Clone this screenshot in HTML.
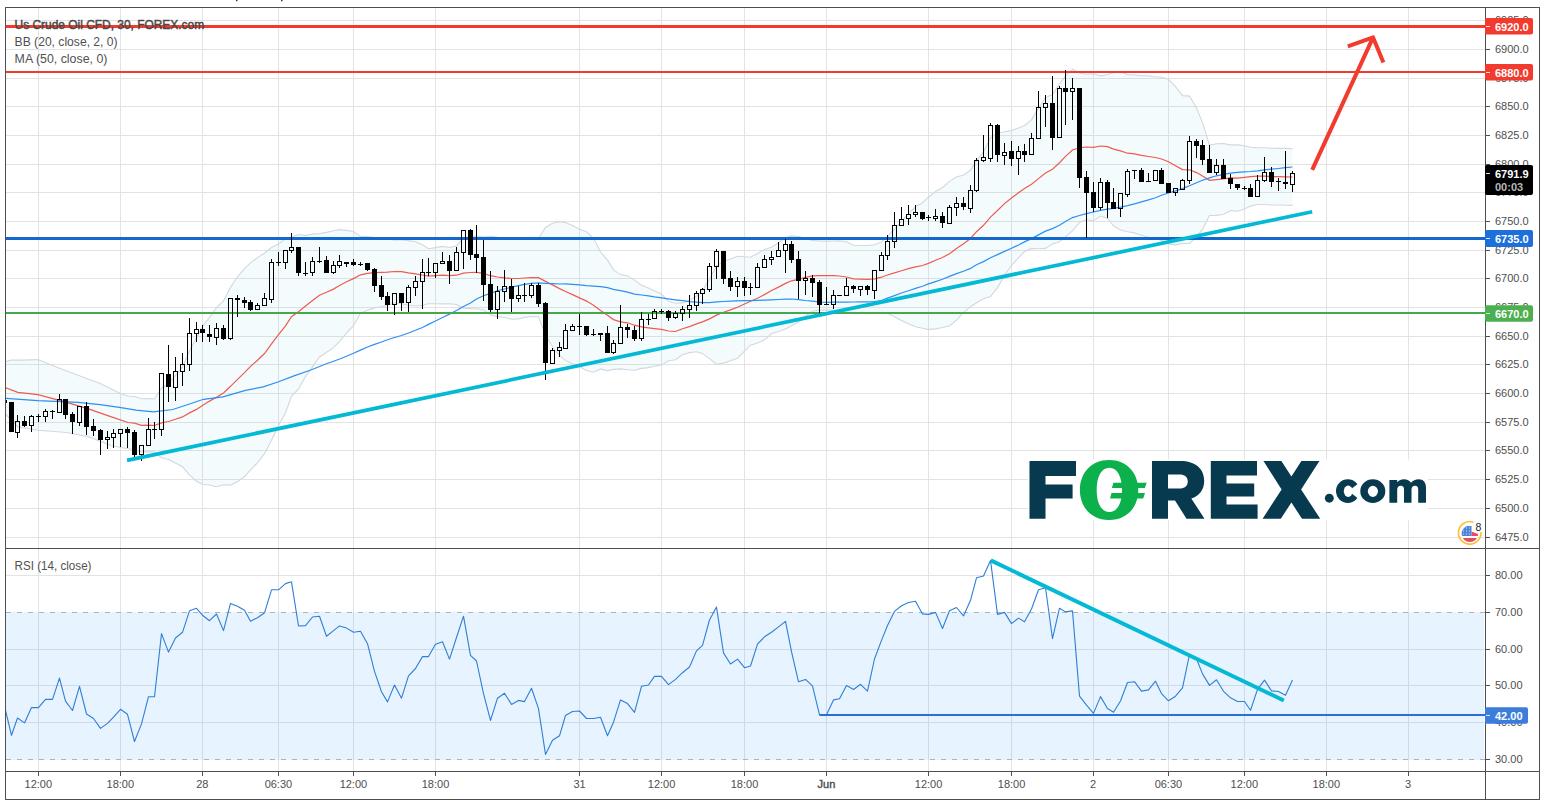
<!DOCTYPE html>
<html><head><meta charset="utf-8">
<style>
html,body{margin:0;padding:0;background:#fff;width:1546px;height:808px;overflow:hidden}
svg{position:absolute;left:0;top:0;display:block}
text{font-family:"Liberation Sans",sans-serif}
</style></head>
<body>
<svg width="1546" height="808" viewBox="0 0 1546 808">
<defs>
<clipPath id="cm"><rect x="6" y="8" width="1479" height="540"/></clipPath>
<clipPath id="cr"><rect x="6" y="549" width="1479" height="222"/></clipPath>
</defs>
<rect x="0" y="0" width="1546" height="808" fill="#fff"/>
<!-- top cut-off glyph marks -->
<rect x="236" y="0" width="1.5" height="1.2" fill="#333"/>
<rect x="281" y="0" width="1.5" height="1.2" fill="#333"/>
<!-- RSI band -->
<g stroke="#e3e3e3" stroke-width="1" shape-rendering="crispEdges">
<line x1="38.5" y1="8" x2="38.5" y2="548"/>
<line x1="38.5" y1="549" x2="38.5" y2="771"/>
<line x1="120.5" y1="8" x2="120.5" y2="548"/>
<line x1="120.5" y1="549" x2="120.5" y2="771"/>
<line x1="202.5" y1="8" x2="202.5" y2="548"/>
<line x1="202.5" y1="549" x2="202.5" y2="771"/>
<line x1="278.5" y1="8" x2="278.5" y2="548"/>
<line x1="278.5" y1="549" x2="278.5" y2="771"/>
<line x1="353.5" y1="8" x2="353.5" y2="548"/>
<line x1="353.5" y1="549" x2="353.5" y2="771"/>
<line x1="435.5" y1="8" x2="435.5" y2="548"/>
<line x1="435.5" y1="549" x2="435.5" y2="771"/>
<line x1="579.5" y1="8" x2="579.5" y2="548"/>
<line x1="579.5" y1="549" x2="579.5" y2="771"/>
<line x1="661.5" y1="8" x2="661.5" y2="548"/>
<line x1="661.5" y1="549" x2="661.5" y2="771"/>
<line x1="744.5" y1="8" x2="744.5" y2="548"/>
<line x1="744.5" y1="549" x2="744.5" y2="771"/>
<line x1="826.5" y1="8" x2="826.5" y2="548"/>
<line x1="826.5" y1="549" x2="826.5" y2="771"/>
<line x1="928.5" y1="8" x2="928.5" y2="548"/>
<line x1="928.5" y1="549" x2="928.5" y2="771"/>
<line x1="1011.5" y1="8" x2="1011.5" y2="548"/>
<line x1="1011.5" y1="549" x2="1011.5" y2="771"/>
<line x1="1093.5" y1="8" x2="1093.5" y2="548"/>
<line x1="1093.5" y1="549" x2="1093.5" y2="771"/>
<line x1="1168.5" y1="8" x2="1168.5" y2="548"/>
<line x1="1168.5" y1="549" x2="1168.5" y2="771"/>
<line x1="1244.5" y1="8" x2="1244.5" y2="548"/>
<line x1="1244.5" y1="549" x2="1244.5" y2="771"/>
<line x1="1326.5" y1="8" x2="1326.5" y2="548"/>
<line x1="1326.5" y1="549" x2="1326.5" y2="771"/>
<line x1="1408.5" y1="8" x2="1408.5" y2="548"/>
<line x1="1408.5" y1="549" x2="1408.5" y2="771"/>
<line x1="6" y1="20.5" x2="1485" y2="20.5"/>
<line x1="6" y1="49.5" x2="1485" y2="49.5"/>
<line x1="6" y1="78.5" x2="1485" y2="78.5"/>
<line x1="6" y1="106.5" x2="1485" y2="106.5"/>
<line x1="6" y1="135.5" x2="1485" y2="135.5"/>
<line x1="6" y1="164.5" x2="1485" y2="164.5"/>
<line x1="6" y1="192.5" x2="1485" y2="192.5"/>
<line x1="6" y1="221.5" x2="1485" y2="221.5"/>
<line x1="6" y1="250.5" x2="1485" y2="250.5"/>
<line x1="6" y1="278.5" x2="1485" y2="278.5"/>
<line x1="6" y1="307.5" x2="1485" y2="307.5"/>
<line x1="6" y1="336.5" x2="1485" y2="336.5"/>
<line x1="6" y1="364.5" x2="1485" y2="364.5"/>
<line x1="6" y1="393.5" x2="1485" y2="393.5"/>
<line x1="6" y1="422.5" x2="1485" y2="422.5"/>
<line x1="6" y1="450.5" x2="1485" y2="450.5"/>
<line x1="6" y1="479.5" x2="1485" y2="479.5"/>
<line x1="6" y1="508.5" x2="1485" y2="508.5"/>
<line x1="6" y1="537.5" x2="1485" y2="537.5"/>
<line x1="6" y1="575.5" x2="1485" y2="575.5"/>
<line x1="6" y1="649.5" x2="1485" y2="649.5"/>
<line x1="6" y1="685.5" x2="1485" y2="685.5"/>
<line x1="6" y1="722.5" x2="1485" y2="722.5"/>
</g>
<rect x="6" y="612" width="1478" height="148" fill="#2196f3" fill-opacity="0.11"/>
<g stroke="#adb4ba" stroke-width="1" stroke-dasharray="5,6" shape-rendering="crispEdges">
<line x1="6" y1="612.5" x2="1485" y2="612.5"/>
<line x1="6" y1="759.5" x2="1485" y2="759.5"/>
</g>
<g clip-path="url(#cm)">
<polygon points="4.0,362.2 11.1,360.1 22.3,360.1 37.9,359.6 55.7,366.8 78.0,375.2 100.2,383.5 120.3,393.5 128.0,396.0 134.5,396.5 141.5,398.7 148.5,398.6 154.5,399.0 161.5,388.0 168.5,383.4 175.5,375.3 182.5,366.9 189.5,351.1 196.5,337.7 202.5,326.4 209.5,317.3 216.5,307.7 223.5,301.0 230.5,287.4 237.5,276.9 244.5,268.6 250.5,262.9 257.5,257.6 264.5,253.2 271.5,247.5 278.5,244.0 285.5,238.8 291.5,237.1 298.5,234.5 305.5,235.4 312.5,234.1 319.5,233.6 326.5,232.4 333.5,230.7 339.5,229.6 346.5,230.4 353.5,231.5 360.5,236.5 367.5,236.5 374.5,237.5 381.5,238.1 387.5,238.8 394.5,240.3 401.5,239.8 408.5,240.6 415.5,241.8 422.5,244.7 428.5,248.7 435.5,247.6 442.5,246.4 449.5,247.5 456.5,245.9 463.5,237.8 470.5,236.5 476.5,236.0 483.5,237.0 490.5,236.2 497.5,237.4 504.5,238.2 511.5,238.0 518.5,238.0 524.5,238.6 531.5,238.6 538.5,238.5 545.5,227.5 552.5,223.3 559.5,221.6 565.5,222.6 572.5,225.5 579.5,229.2 586.5,231.8 593.5,238.3 600.5,252.0 607.5,260.1 613.5,269.9 620.5,274.6 627.5,275.9 634.5,280.1 641.5,285.2 648.5,288.0 654.5,290.9 661.5,294.0 668.5,301.3 675.5,303.3 682.5,302.9 689.5,300.6 696.5,295.9 702.5,290.3 709.5,279.2 716.5,265.9 723.5,261.5 730.5,259.1 737.5,256.3 744.5,256.8 750.5,257.2 757.5,253.5 764.5,249.5 771.5,247.3 778.5,242.7 785.5,237.7 791.5,235.9 798.5,236.6 805.5,238.4 812.5,240.4 819.5,241.0 826.5,241.1 833.5,241.0 839.5,240.7 846.5,241.7 853.5,245.3 860.5,245.5 867.5,245.5 874.5,244.8 881.5,241.9 887.5,236.7 894.5,228.9 901.5,221.3 908.5,213.6 915.5,206.8 922.5,202.7 928.5,197.2 935.5,191.5 942.5,187.5 949.5,181.4 956.5,177.1 963.5,174.9 970.5,170.3 976.5,160.7 983.5,151.9 990.5,137.7 997.5,133.5 1004.5,131.8 1011.5,130.6 1018.5,127.9 1024.5,125.5 1031.5,119.9 1038.5,108.3 1045.5,97.6 1052.5,94.6 1059.5,83.8 1065.5,75.9 1072.5,69.2 1079.5,73.0 1086.5,74.3 1093.5,73.8 1100.5,75.9 1107.5,74.8 1113.5,72.4 1120.5,71.8 1127.5,74.6 1134.5,75.0 1141.5,75.6 1148.5,75.9 1155.5,76.7 1161.5,77.3 1168.5,79.3 1175.5,86.6 1182.5,95.6 1189.5,96.1 1196.5,108.0 1202.5,122.6 1209.5,145.1 1216.5,143.8 1223.5,143.6 1230.5,144.9 1237.5,144.9 1244.5,145.8 1250.5,147.3 1257.5,147.7 1264.5,147.8 1271.5,148.3 1278.5,148.4 1285.5,148.4 1292.5,148.6 1292.5,205.4 1285.5,205.3 1278.5,205.0 1271.5,205.0 1264.5,204.5 1257.5,204.5 1250.5,206.1 1244.5,208.9 1237.5,211.2 1230.5,210.6 1223.5,214.2 1216.5,215.4 1209.5,215.5 1202.5,229.4 1196.5,237.2 1189.5,243.4 1182.5,243.5 1175.5,244.9 1168.5,244.0 1161.5,240.6 1155.5,238.3 1148.5,237.2 1141.5,235.3 1134.5,232.9 1127.5,231.8 1120.5,230.0 1113.5,225.8 1107.5,218.5 1100.5,216.1 1093.5,220.7 1086.5,219.7 1079.5,222.5 1072.5,230.9 1065.5,236.9 1059.5,241.7 1052.5,243.9 1045.5,248.4 1038.5,248.8 1031.5,248.4 1024.5,251.5 1018.5,257.8 1011.5,265.5 1004.5,275.4 997.5,287.6 990.5,296.5 983.5,298.7 976.5,302.7 970.5,306.7 963.5,312.6 956.5,320.1 949.5,326.0 942.5,327.5 935.5,328.9 928.5,329.6 922.5,328.3 915.5,326.8 908.5,323.8 901.5,320.4 894.5,316.8 887.5,313.3 881.5,312.6 874.5,313.0 867.5,313.3 860.5,312.9 853.5,312.4 846.5,312.2 839.5,311.2 833.5,310.3 826.5,309.9 819.5,310.1 812.5,311.2 805.5,316.3 798.5,322.0 791.5,325.7 785.5,329.1 778.5,331.6 771.5,333.8 764.5,339.8 757.5,342.9 750.5,345.2 744.5,351.2 737.5,358.2 730.5,360.8 723.5,363.1 716.5,364.3 709.5,358.6 702.5,353.4 696.5,351.8 689.5,352.6 682.5,354.7 675.5,359.7 668.5,360.8 661.5,364.9 654.5,366.3 648.5,367.6 641.5,368.4 634.5,370.3 627.5,369.8 620.5,368.9 613.5,369.4 607.5,370.6 600.5,368.9 593.5,372.2 586.5,370.5 579.5,366.6 572.5,363.8 565.5,360.4 559.5,355.6 552.5,346.5 545.5,335.3 538.5,316.8 531.5,316.5 524.5,317.4 518.5,318.9 511.5,319.1 504.5,317.5 497.5,316.6 490.5,315.1 483.5,309.9 476.5,308.7 470.5,308.6 463.5,308.3 456.5,304.5 449.5,303.8 442.5,303.9 435.5,303.8 428.5,303.8 422.5,305.3 415.5,306.0 408.5,305.3 401.5,303.6 394.5,302.7 387.5,305.4 381.5,306.7 374.5,307.9 367.5,310.3 360.5,313.2 353.5,325.7 346.5,333.2 339.5,341.5 333.5,347.6 326.5,352.2 319.5,357.0 312.5,366.9 305.5,376.6 298.5,388.9 291.5,396.3 285.5,412.8 278.5,425.5 271.5,440.3 264.5,453.7 257.5,462.8 250.5,469.9 244.5,476.5 237.5,481.7 230.5,485.1 223.5,484.8 216.5,486.8 209.5,485.0 202.5,484.3 196.5,481.2 189.5,474.8 182.5,466.8 175.5,463.1 168.5,459.5 161.5,457.7 154.5,452.0 148.5,451.6 141.5,451.9 134.5,449.8 128.0,448.8 111.4,445.8 89.1,436.9 66.8,432.5 37.9,430.2 17.8,426.9 4.0,412.5" fill="#0a9ccc" fill-opacity="0.042"/>
<polyline points="4.0,362.2 11.1,360.1 22.3,360.1 37.9,359.6 55.7,366.8 78.0,375.2 100.2,383.5 120.3,393.5 128.0,396.0 134.5,396.5 141.5,398.7 148.5,398.6 154.5,399.0 161.5,388.0 168.5,383.4 175.5,375.3 182.5,366.9 189.5,351.1 196.5,337.7 202.5,326.4 209.5,317.3 216.5,307.7 223.5,301.0 230.5,287.4 237.5,276.9 244.5,268.6 250.5,262.9 257.5,257.6 264.5,253.2 271.5,247.5 278.5,244.0 285.5,238.8 291.5,237.1 298.5,234.5 305.5,235.4 312.5,234.1 319.5,233.6 326.5,232.4 333.5,230.7 339.5,229.6 346.5,230.4 353.5,231.5 360.5,236.5 367.5,236.5 374.5,237.5 381.5,238.1 387.5,238.8 394.5,240.3 401.5,239.8 408.5,240.6 415.5,241.8 422.5,244.7 428.5,248.7 435.5,247.6 442.5,246.4 449.5,247.5 456.5,245.9 463.5,237.8 470.5,236.5 476.5,236.0 483.5,237.0 490.5,236.2 497.5,237.4 504.5,238.2 511.5,238.0 518.5,238.0 524.5,238.6 531.5,238.6 538.5,238.5 545.5,227.5 552.5,223.3 559.5,221.6 565.5,222.6 572.5,225.5 579.5,229.2 586.5,231.8 593.5,238.3 600.5,252.0 607.5,260.1 613.5,269.9 620.5,274.6 627.5,275.9 634.5,280.1 641.5,285.2 648.5,288.0 654.5,290.9 661.5,294.0 668.5,301.3 675.5,303.3 682.5,302.9 689.5,300.6 696.5,295.9 702.5,290.3 709.5,279.2 716.5,265.9 723.5,261.5 730.5,259.1 737.5,256.3 744.5,256.8 750.5,257.2 757.5,253.5 764.5,249.5 771.5,247.3 778.5,242.7 785.5,237.7 791.5,235.9 798.5,236.6 805.5,238.4 812.5,240.4 819.5,241.0 826.5,241.1 833.5,241.0 839.5,240.7 846.5,241.7 853.5,245.3 860.5,245.5 867.5,245.5 874.5,244.8 881.5,241.9 887.5,236.7 894.5,228.9 901.5,221.3 908.5,213.6 915.5,206.8 922.5,202.7 928.5,197.2 935.5,191.5 942.5,187.5 949.5,181.4 956.5,177.1 963.5,174.9 970.5,170.3 976.5,160.7 983.5,151.9 990.5,137.7 997.5,133.5 1004.5,131.8 1011.5,130.6 1018.5,127.9 1024.5,125.5 1031.5,119.9 1038.5,108.3 1045.5,97.6 1052.5,94.6 1059.5,83.8 1065.5,75.9 1072.5,69.2 1079.5,73.0 1086.5,74.3 1093.5,73.8 1100.5,75.9 1107.5,74.8 1113.5,72.4 1120.5,71.8 1127.5,74.6 1134.5,75.0 1141.5,75.6 1148.5,75.9 1155.5,76.7 1161.5,77.3 1168.5,79.3 1175.5,86.6 1182.5,95.6 1189.5,96.1 1196.5,108.0 1202.5,122.6 1209.5,145.1 1216.5,143.8 1223.5,143.6 1230.5,144.9 1237.5,144.9 1244.5,145.8 1250.5,147.3 1257.5,147.7 1264.5,147.8 1271.5,148.3 1278.5,148.4 1285.5,148.4 1292.5,148.6" fill="none" stroke="#d3d7e0" stroke-width="1.1"/>
<polyline points="4.0,412.5 17.8,426.9 37.9,430.2 66.8,432.5 89.1,436.9 111.4,445.8 128.0,448.8 134.5,449.8 141.5,451.9 148.5,451.6 154.5,452.0 161.5,457.7 168.5,459.5 175.5,463.1 182.5,466.8 189.5,474.8 196.5,481.2 202.5,484.3 209.5,485.0 216.5,486.8 223.5,484.8 230.5,485.1 237.5,481.7 244.5,476.5 250.5,469.9 257.5,462.8 264.5,453.7 271.5,440.3 278.5,425.5 285.5,412.8 291.5,396.3 298.5,388.9 305.5,376.6 312.5,366.9 319.5,357.0 326.5,352.2 333.5,347.6 339.5,341.5 346.5,333.2 353.5,325.7 360.5,313.2 367.5,310.3 374.5,307.9 381.5,306.7 387.5,305.4 394.5,302.7 401.5,303.6 408.5,305.3 415.5,306.0 422.5,305.3 428.5,303.8 435.5,303.8 442.5,303.9 449.5,303.8 456.5,304.5 463.5,308.3 470.5,308.6 476.5,308.7 483.5,309.9 490.5,315.1 497.5,316.6 504.5,317.5 511.5,319.1 518.5,318.9 524.5,317.4 531.5,316.5 538.5,316.8 545.5,335.3 552.5,346.5 559.5,355.6 565.5,360.4 572.5,363.8 579.5,366.6 586.5,370.5 593.5,372.2 600.5,368.9 607.5,370.6 613.5,369.4 620.5,368.9 627.5,369.8 634.5,370.3 641.5,368.4 648.5,367.6 654.5,366.3 661.5,364.9 668.5,360.8 675.5,359.7 682.5,354.7 689.5,352.6 696.5,351.8 702.5,353.4 709.5,358.6 716.5,364.3 723.5,363.1 730.5,360.8 737.5,358.2 744.5,351.2 750.5,345.2 757.5,342.9 764.5,339.8 771.5,333.8 778.5,331.6 785.5,329.1 791.5,325.7 798.5,322.0 805.5,316.3 812.5,311.2 819.5,310.1 826.5,309.9 833.5,310.3 839.5,311.2 846.5,312.2 853.5,312.4 860.5,312.9 867.5,313.3 874.5,313.0 881.5,312.6 887.5,313.3 894.5,316.8 901.5,320.4 908.5,323.8 915.5,326.8 922.5,328.3 928.5,329.6 935.5,328.9 942.5,327.5 949.5,326.0 956.5,320.1 963.5,312.6 970.5,306.7 976.5,302.7 983.5,298.7 990.5,296.5 997.5,287.6 1004.5,275.4 1011.5,265.5 1018.5,257.8 1024.5,251.5 1031.5,248.4 1038.5,248.8 1045.5,248.4 1052.5,243.9 1059.5,241.7 1065.5,236.9 1072.5,230.9 1079.5,222.5 1086.5,219.7 1093.5,220.7 1100.5,216.1 1107.5,218.5 1113.5,225.8 1120.5,230.0 1127.5,231.8 1134.5,232.9 1141.5,235.3 1148.5,237.2 1155.5,238.3 1161.5,240.6 1168.5,244.0 1175.5,244.9 1182.5,243.5 1189.5,243.4 1196.5,237.2 1202.5,229.4 1209.5,215.5 1216.5,215.4 1223.5,214.2 1230.5,210.6 1237.5,211.2 1244.5,208.9 1250.5,206.1 1257.5,204.5 1264.5,204.5 1271.5,205.0 1278.5,205.0 1285.5,205.3 1292.5,205.4" fill="none" stroke="#d3d7e0" stroke-width="1.1"/>
<polyline points="4.0,387.0 17.8,392.4 37.9,394.6 66.8,402.4 89.1,409.1 111.4,416.9 128.0,422.5 134.5,423.2 141.5,425.3 148.5,425.1 154.5,425.5 161.5,422.9 168.5,421.5 175.5,419.2 182.5,416.9 189.5,412.9 196.5,409.4 202.5,405.4 209.5,401.1 216.5,397.3 223.5,392.9 230.5,386.3 237.5,379.3 244.5,372.6 250.5,366.4 257.5,360.2 264.5,353.5 271.5,343.9 278.5,334.7 285.5,325.8 291.5,316.7 298.5,311.7 305.5,306.0 312.5,300.5 319.5,295.3 326.5,292.3 333.5,289.1 339.5,285.5 346.5,281.8 353.5,278.6 360.5,274.8 367.5,273.4 374.5,272.7 381.5,272.4 387.5,272.1 394.5,271.5 401.5,271.7 408.5,272.9 415.5,273.9 422.5,275.0 428.5,276.2 435.5,275.7 442.5,275.2 449.5,275.6 456.5,275.2 463.5,273.1 470.5,272.5 476.5,272.3 483.5,273.4 490.5,275.7 497.5,277.0 504.5,277.9 511.5,278.5 518.5,278.5 524.5,278.0 531.5,277.6 538.5,277.7 545.5,281.4 552.5,284.9 559.5,288.6 565.5,291.5 572.5,294.6 579.5,297.9 586.5,301.1 593.5,305.2 600.5,310.4 607.5,315.3 613.5,319.6 620.5,321.8 627.5,322.8 634.5,325.2 641.5,326.8 648.5,327.8 654.5,328.6 661.5,329.4 668.5,331.0 675.5,331.5 682.5,328.8 689.5,326.6 696.5,323.9 702.5,321.9 709.5,318.9 716.5,315.1 723.5,312.3 730.5,309.9 737.5,307.3 744.5,304.0 750.5,301.2 757.5,298.2 764.5,294.6 771.5,290.5 778.5,287.1 785.5,283.4 791.5,280.8 798.5,279.3 805.5,277.3 812.5,275.8 819.5,275.6 826.5,275.5 833.5,275.6 839.5,276.0 846.5,277.0 853.5,278.9 860.5,279.2 867.5,279.4 874.5,278.9 881.5,277.2 887.5,275.0 894.5,272.9 901.5,270.8 908.5,268.7 915.5,266.8 922.5,265.5 928.5,263.4 935.5,260.2 942.5,257.5 949.5,253.7 956.5,248.6 963.5,243.8 970.5,238.5 976.5,231.7 983.5,225.3 990.5,217.1 997.5,210.5 1004.5,203.6 1011.5,198.0 1018.5,192.8 1024.5,188.5 1031.5,184.2 1038.5,178.6 1045.5,173.0 1052.5,169.3 1059.5,162.7 1065.5,156.4 1072.5,150.0 1079.5,147.8 1086.5,147.0 1093.5,147.3 1100.5,146.0 1107.5,146.6 1113.5,149.1 1120.5,150.9 1127.5,153.2 1134.5,153.9 1141.5,155.4 1148.5,156.5 1155.5,157.5 1161.5,159.0 1168.5,161.7 1175.5,165.7 1182.5,169.6 1189.5,169.8 1196.5,172.6 1202.5,176.0 1209.5,180.3 1216.5,179.6 1223.5,178.9 1230.5,177.8 1237.5,178.1 1244.5,177.4 1250.5,176.7 1257.5,176.1 1264.5,176.1 1271.5,176.7 1278.5,176.7 1285.5,176.9 1292.5,177.0" fill="none" stroke="#f05a4f" stroke-width="1.2"/>
<polyline points="4.0,398.2 37.9,400.6 78.0,402.3 100.0,404.7 119.4,407.4 136.0,410.2 153.4,411.9 172.8,409.5 188.0,404.5 203.5,399.3 222.9,396.9 245.5,390.4 263.3,386.9 277.9,382.0 294.0,375.9 310.2,370.2 326.4,363.7 340.5,358.8 353.5,353.2 360.5,350.1 367.5,347.0 374.5,344.4 381.5,342.0 387.5,339.8 394.5,337.5 401.5,335.5 408.5,333.0 415.5,330.2 422.5,327.5 428.5,324.4 435.5,321.0 442.5,317.5 449.5,314.1 456.5,310.5 463.5,306.5 470.5,303.0 476.5,299.0 483.5,295.8 490.5,293.4 497.5,290.7 504.5,289.0 511.5,287.2 518.5,285.7 524.5,284.3 531.5,283.3 538.5,282.8 545.5,283.4 552.5,283.7 559.5,284.0 565.5,283.8 572.5,284.4 579.5,284.9 586.5,285.6 593.5,286.1 600.5,286.6 607.5,287.7 613.5,289.4 620.5,290.6 627.5,292.2 634.5,294.1 641.5,295.0 648.5,295.9 654.5,296.9 661.5,297.9 668.5,298.8 675.5,299.8 682.5,300.7 689.5,301.6 696.5,302.1 702.5,302.7 709.5,302.6 716.5,301.9 723.5,301.5 730.5,301.2 737.5,300.9 744.5,300.6 750.5,300.6 757.5,300.4 764.5,300.1 771.5,299.8 778.5,299.5 785.5,299.2 791.5,299.0 798.5,299.6 805.5,300.5 812.5,301.1 819.5,302.0 826.5,302.4 833.5,302.1 839.5,302.2 846.5,302.2 853.5,302.0 860.5,301.9 867.5,301.8 874.5,301.5 881.5,300.5 887.5,298.1 894.5,295.6 901.5,293.0 908.5,290.7 915.5,288.4 922.5,286.3 928.5,283.9 935.5,281.6 942.5,279.3 949.5,276.4 956.5,273.6 963.5,271.2 970.5,268.4 976.5,264.8 983.5,261.6 990.5,257.7 997.5,254.6 1004.5,251.4 1011.5,248.3 1018.5,245.0 1024.5,241.9 1031.5,238.6 1038.5,234.9 1045.5,231.1 1052.5,228.6 1059.5,225.3 1065.5,221.6 1072.5,217.6 1079.5,215.5 1086.5,213.6 1093.5,212.0 1100.5,210.3 1107.5,209.2 1113.5,208.3 1120.5,207.1 1127.5,205.6 1134.5,203.9 1141.5,201.9 1148.5,199.9 1155.5,197.7 1161.5,195.3 1168.5,193.0 1175.5,190.9 1182.5,188.6 1189.5,185.7 1196.5,182.8 1202.5,180.3 1209.5,177.9 1216.5,175.8 1223.5,174.3 1230.5,173.2 1237.5,172.4 1244.5,171.8 1250.5,171.5 1257.5,170.8 1264.5,169.9 1271.5,169.2 1278.5,168.5 1285.5,167.7 1292.5,167.0" fill="none" stroke="#2f8ff0" stroke-width="1.2"/>
<!-- horizontal levels -->
<rect x="6" y="25" width="1479" height="3" fill="#f23a2e"/>
<rect x="6" y="71" width="1479" height="2" fill="#f23a2e"/>
<rect x="6" y="237" width="1479" height="3" fill="#1268cc"/>
<rect x="6" y="312" width="1479" height="2" fill="#45a94b"/>
<g shape-rendering="crispEdges" fill="#000">
<rect x="2" y="400" width="5" height="3"/>
<rect x="9" y="402" width="5" height="30"/>
<rect x="17" y="415" width="1" height="6"/>
<rect x="17" y="433" width="1" height="5"/>
<rect x="15.5" y="421.5" width="4" height="11" fill="none" stroke="#000" stroke-width="1"/>
<rect x="24" y="416" width="1" height="5"/>
<rect x="24" y="426" width="1" height="1"/>
<rect x="22" y="421" width="5" height="5"/>
<rect x="31" y="415" width="1" height="1"/>
<rect x="31" y="426" width="1" height="6"/>
<rect x="29.5" y="416.5" width="4" height="9" fill="none" stroke="#000" stroke-width="1"/>
<rect x="38" y="414" width="1" height="2"/>
<rect x="38" y="417" width="1" height="5"/>
<rect x="36" y="416" width="5" height="1"/>
<rect x="45" y="409" width="1" height="2"/>
<rect x="45" y="417" width="1" height="5"/>
<rect x="43.5" y="411.5" width="4" height="5" fill="none" stroke="#000" stroke-width="1"/>
<rect x="52" y="410" width="1" height="1"/>
<rect x="52" y="412" width="1" height="7"/>
<rect x="50" y="411" width="5" height="1"/>
<rect x="59" y="394" width="1" height="5"/>
<rect x="57.5" y="399.5" width="4" height="13" fill="none" stroke="#000" stroke-width="1"/>
<rect x="65" y="415" width="1" height="4"/>
<rect x="63" y="399" width="5" height="16"/>
<rect x="72" y="412" width="1" height="2"/>
<rect x="72" y="422" width="1" height="12"/>
<rect x="70" y="414" width="5" height="8"/>
<rect x="79" y="423" width="1" height="3"/>
<rect x="77.5" y="406.5" width="4" height="16" fill="none" stroke="#000" stroke-width="1"/>
<rect x="86" y="402" width="1" height="4"/>
<rect x="86" y="427" width="1" height="8"/>
<rect x="84" y="406" width="5" height="21"/>
<rect x="93" y="419" width="1" height="7"/>
<rect x="93" y="431" width="1" height="5"/>
<rect x="91" y="426" width="5" height="5"/>
<rect x="100" y="429" width="1" height="1"/>
<rect x="100" y="440" width="1" height="15"/>
<rect x="98" y="430" width="5" height="10"/>
<rect x="107" y="431" width="1" height="6"/>
<rect x="107" y="440" width="1" height="9"/>
<rect x="105.5" y="437.5" width="4" height="2" fill="none" stroke="#000" stroke-width="1"/>
<rect x="113" y="429" width="1" height="4"/>
<rect x="113" y="438" width="1" height="10"/>
<rect x="111.5" y="433.5" width="4" height="4" fill="none" stroke="#000" stroke-width="1"/>
<rect x="120" y="434" width="1" height="13"/>
<rect x="118.5" y="429.5" width="4" height="4" fill="none" stroke="#000" stroke-width="1"/>
<rect x="127" y="427" width="1" height="2"/>
<rect x="127" y="433" width="1" height="15"/>
<rect x="125" y="429" width="5" height="4"/>
<rect x="134" y="430" width="1" height="2"/>
<rect x="134" y="455" width="1" height="2"/>
<rect x="132" y="432" width="5" height="23"/>
<rect x="141" y="455" width="1" height="6"/>
<rect x="139.5" y="445.5" width="4" height="9" fill="none" stroke="#000" stroke-width="1"/>
<rect x="148" y="418" width="1" height="11"/>
<rect x="146.5" y="429.5" width="4" height="16" fill="none" stroke="#000" stroke-width="1"/>
<rect x="154" y="422" width="1" height="7"/>
<rect x="154" y="430" width="1" height="9"/>
<rect x="152" y="429" width="5" height="1"/>
<rect x="161" y="430" width="1" height="6"/>
<rect x="159.5" y="373.5" width="4" height="56" fill="none" stroke="#000" stroke-width="1"/>
<rect x="168" y="345" width="1" height="29"/>
<rect x="168" y="387" width="1" height="15"/>
<rect x="166" y="374" width="5" height="13"/>
<rect x="175" y="357" width="1" height="14"/>
<rect x="175" y="388" width="1" height="13"/>
<rect x="173.5" y="371.5" width="4" height="16" fill="none" stroke="#000" stroke-width="1"/>
<rect x="182" y="353" width="1" height="11"/>
<rect x="182" y="372" width="1" height="14"/>
<rect x="180.5" y="364.5" width="4" height="7" fill="none" stroke="#000" stroke-width="1"/>
<rect x="189" y="318" width="1" height="15"/>
<rect x="189" y="365" width="1" height="6"/>
<rect x="187.5" y="333.5" width="4" height="31" fill="none" stroke="#000" stroke-width="1"/>
<rect x="196" y="322" width="1" height="7"/>
<rect x="196" y="334" width="1" height="8"/>
<rect x="194.5" y="329.5" width="4" height="4" fill="none" stroke="#000" stroke-width="1"/>
<rect x="202" y="325" width="1" height="4"/>
<rect x="202" y="333" width="1" height="9"/>
<rect x="200" y="329" width="5" height="4"/>
<rect x="209" y="325" width="1" height="9"/>
<rect x="209" y="337" width="1" height="5"/>
<rect x="207" y="334" width="5" height="3"/>
<rect x="216" y="323" width="1" height="5"/>
<rect x="216" y="338" width="1" height="7"/>
<rect x="214.5" y="328.5" width="4" height="9" fill="none" stroke="#000" stroke-width="1"/>
<rect x="223" y="325" width="1" height="3"/>
<rect x="223" y="339" width="1" height="1"/>
<rect x="221" y="328" width="5" height="11"/>
<rect x="230" y="339" width="1" height="1"/>
<rect x="228.5" y="298.5" width="4" height="40" fill="none" stroke="#000" stroke-width="1"/>
<rect x="237" y="295" width="1" height="3"/>
<rect x="237" y="300" width="1" height="17"/>
<rect x="235" y="298" width="5" height="2"/>
<rect x="244" y="297" width="1" height="3"/>
<rect x="244" y="303" width="1" height="5"/>
<rect x="242" y="300" width="5" height="3"/>
<rect x="250" y="300" width="1" height="2"/>
<rect x="250" y="310" width="1" height="1"/>
<rect x="248" y="302" width="5" height="8"/>
<rect x="257" y="303" width="1" height="2"/>
<rect x="255.5" y="305.5" width="4" height="4" fill="none" stroke="#000" stroke-width="1"/>
<rect x="264" y="293" width="1" height="5"/>
<rect x="262.5" y="298.5" width="4" height="7" fill="none" stroke="#000" stroke-width="1"/>
<rect x="271" y="259" width="1" height="3"/>
<rect x="271" y="300" width="1" height="3"/>
<rect x="269.5" y="262.5" width="4" height="37" fill="none" stroke="#000" stroke-width="1"/>
<rect x="278" y="252" width="1" height="10"/>
<rect x="278" y="263" width="1" height="3"/>
<rect x="276" y="262" width="5" height="1"/>
<rect x="285" y="263" width="1" height="6"/>
<rect x="283.5" y="250.5" width="4" height="12" fill="none" stroke="#000" stroke-width="1"/>
<rect x="291" y="233" width="1" height="14"/>
<rect x="291" y="251" width="1" height="2"/>
<rect x="289.5" y="247.5" width="4" height="3" fill="none" stroke="#000" stroke-width="1"/>
<rect x="298" y="273" width="1" height="3"/>
<rect x="296" y="247" width="5" height="26"/>
<rect x="305" y="262" width="1" height="11"/>
<rect x="305" y="274" width="1" height="2"/>
<rect x="303" y="273" width="5" height="1"/>
<rect x="312" y="257" width="1" height="4"/>
<rect x="312" y="273" width="1" height="3"/>
<rect x="310.5" y="261.5" width="4" height="11" fill="none" stroke="#000" stroke-width="1"/>
<rect x="319" y="247" width="1" height="14"/>
<rect x="319" y="262" width="1" height="1"/>
<rect x="317" y="261" width="5" height="1"/>
<rect x="326" y="256" width="1" height="4"/>
<rect x="324" y="260" width="5" height="13"/>
<rect x="333" y="261" width="1" height="4"/>
<rect x="333" y="273" width="1" height="1"/>
<rect x="331.5" y="265.5" width="4" height="7" fill="none" stroke="#000" stroke-width="1"/>
<rect x="339" y="255" width="1" height="6"/>
<rect x="339" y="266" width="1" height="2"/>
<rect x="337.5" y="261.5" width="4" height="4" fill="none" stroke="#000" stroke-width="1"/>
<rect x="346" y="264" width="1" height="3"/>
<rect x="344" y="262" width="5" height="2"/>
<rect x="353" y="259" width="1" height="3"/>
<rect x="353" y="265" width="1" height="1"/>
<rect x="351" y="262" width="5" height="3"/>
<rect x="360" y="262" width="1" height="2"/>
<rect x="360" y="265" width="1" height="1"/>
<rect x="358" y="264" width="5" height="1"/>
<rect x="367" y="270" width="1" height="1"/>
<rect x="365" y="263" width="5" height="7"/>
<rect x="374" y="268" width="1" height="1"/>
<rect x="374" y="286" width="1" height="6"/>
<rect x="372" y="269" width="5" height="17"/>
<rect x="381" y="276" width="1" height="9"/>
<rect x="381" y="297" width="1" height="3"/>
<rect x="379" y="285" width="5" height="12"/>
<rect x="387" y="292" width="1" height="4"/>
<rect x="387" y="305" width="1" height="6"/>
<rect x="385" y="296" width="5" height="9"/>
<rect x="394" y="305" width="1" height="10"/>
<rect x="392.5" y="293.5" width="4" height="11" fill="none" stroke="#000" stroke-width="1"/>
<rect x="401" y="303" width="1" height="8"/>
<rect x="399" y="293" width="5" height="10"/>
<rect x="408" y="285" width="1" height="2"/>
<rect x="408" y="303" width="1" height="9"/>
<rect x="406.5" y="287.5" width="4" height="15" fill="none" stroke="#000" stroke-width="1"/>
<rect x="415" y="276" width="1" height="5"/>
<rect x="415" y="288" width="1" height="8"/>
<rect x="413.5" y="281.5" width="4" height="6" fill="none" stroke="#000" stroke-width="1"/>
<rect x="422" y="259" width="1" height="13"/>
<rect x="422" y="282" width="1" height="27"/>
<rect x="420.5" y="272.5" width="4" height="9" fill="none" stroke="#000" stroke-width="1"/>
<rect x="428" y="258" width="1" height="14"/>
<rect x="428" y="273" width="1" height="3"/>
<rect x="426" y="272" width="5" height="1"/>
<rect x="435" y="273" width="1" height="5"/>
<rect x="433.5" y="263.5" width="4" height="9" fill="none" stroke="#000" stroke-width="1"/>
<rect x="442" y="252" width="1" height="9"/>
<rect x="440.5" y="261.5" width="4" height="2" fill="none" stroke="#000" stroke-width="1"/>
<rect x="449" y="255" width="1" height="6"/>
<rect x="449" y="271" width="1" height="13"/>
<rect x="447" y="261" width="5" height="10"/>
<rect x="456" y="247" width="1" height="5"/>
<rect x="454.5" y="252.5" width="4" height="18" fill="none" stroke="#000" stroke-width="1"/>
<rect x="463" y="253" width="1" height="16"/>
<rect x="461.5" y="230.5" width="4" height="22" fill="none" stroke="#000" stroke-width="1"/>
<rect x="470" y="229" width="1" height="1"/>
<rect x="470" y="255" width="1" height="5"/>
<rect x="468" y="230" width="5" height="25"/>
<rect x="476" y="225" width="1" height="29"/>
<rect x="476" y="258" width="1" height="15"/>
<rect x="474" y="254" width="5" height="4"/>
<rect x="483" y="240" width="1" height="17"/>
<rect x="483" y="285" width="1" height="16"/>
<rect x="481" y="257" width="5" height="28"/>
<rect x="490" y="271" width="1" height="13"/>
<rect x="490" y="310" width="1" height="2"/>
<rect x="488" y="284" width="5" height="26"/>
<rect x="497" y="286" width="1" height="5"/>
<rect x="497" y="310" width="1" height="9"/>
<rect x="495.5" y="291.5" width="4" height="18" fill="none" stroke="#000" stroke-width="1"/>
<rect x="504" y="270" width="1" height="16"/>
<rect x="504" y="292" width="1" height="10"/>
<rect x="502.5" y="286.5" width="4" height="5" fill="none" stroke="#000" stroke-width="1"/>
<rect x="511" y="279" width="1" height="7"/>
<rect x="511" y="299" width="1" height="13"/>
<rect x="509" y="286" width="5" height="13"/>
<rect x="518" y="286" width="1" height="9"/>
<rect x="518" y="299" width="1" height="3"/>
<rect x="516.5" y="295.5" width="4" height="3" fill="none" stroke="#000" stroke-width="1"/>
<rect x="524" y="283" width="1" height="12"/>
<rect x="524" y="296" width="1" height="6"/>
<rect x="522" y="295" width="5" height="1"/>
<rect x="531" y="283" width="1" height="2"/>
<rect x="531" y="296" width="1" height="2"/>
<rect x="529.5" y="285.5" width="4" height="10" fill="none" stroke="#000" stroke-width="1"/>
<rect x="538" y="283" width="1" height="2"/>
<rect x="538" y="304" width="1" height="3"/>
<rect x="536" y="285" width="5" height="19"/>
<rect x="545" y="302" width="1" height="1"/>
<rect x="545" y="363" width="1" height="17"/>
<rect x="543" y="303" width="5" height="60"/>
<rect x="552" y="348" width="1" height="2"/>
<rect x="550.5" y="350.5" width="4" height="13" fill="none" stroke="#000" stroke-width="1"/>
<rect x="559" y="342" width="1" height="5"/>
<rect x="559" y="351" width="1" height="6"/>
<rect x="557.5" y="347.5" width="4" height="3" fill="none" stroke="#000" stroke-width="1"/>
<rect x="565" y="324" width="1" height="6"/>
<rect x="563.5" y="330.5" width="4" height="18" fill="none" stroke="#000" stroke-width="1"/>
<rect x="572" y="324" width="1" height="2"/>
<rect x="570.5" y="326.5" width="4" height="4" fill="none" stroke="#000" stroke-width="1"/>
<rect x="579" y="314" width="1" height="12"/>
<rect x="579" y="327" width="1" height="8"/>
<rect x="577" y="326" width="5" height="1"/>
<rect x="586" y="335" width="1" height="1"/>
<rect x="584" y="326" width="5" height="9"/>
<rect x="593" y="329" width="1" height="5"/>
<rect x="593" y="335" width="1" height="1"/>
<rect x="591" y="334" width="5" height="1"/>
<rect x="600" y="335" width="1" height="6"/>
<rect x="598" y="333" width="5" height="2"/>
<rect x="607" y="326" width="1" height="7"/>
<rect x="605" y="333" width="5" height="20"/>
<rect x="613" y="340" width="1" height="3"/>
<rect x="613" y="353" width="1" height="1"/>
<rect x="611.5" y="343.5" width="4" height="9" fill="none" stroke="#000" stroke-width="1"/>
<rect x="620" y="305" width="1" height="22"/>
<rect x="618.5" y="327.5" width="4" height="16" fill="none" stroke="#000" stroke-width="1"/>
<rect x="627" y="324" width="1" height="3"/>
<rect x="627" y="330" width="1" height="8"/>
<rect x="625" y="327" width="5" height="3"/>
<rect x="634" y="326" width="1" height="4"/>
<rect x="634" y="339" width="1" height="2"/>
<rect x="632" y="330" width="5" height="9"/>
<rect x="641" y="312" width="1" height="7"/>
<rect x="641" y="339" width="1" height="2"/>
<rect x="639.5" y="319.5" width="4" height="19" fill="none" stroke="#000" stroke-width="1"/>
<rect x="648" y="314" width="1" height="5"/>
<rect x="648" y="320" width="1" height="5"/>
<rect x="646" y="319" width="5" height="1"/>
<rect x="654" y="309" width="1" height="2"/>
<rect x="652.5" y="311.5" width="4" height="7" fill="none" stroke="#000" stroke-width="1"/>
<rect x="661" y="309" width="1" height="2"/>
<rect x="661" y="312" width="1" height="2"/>
<rect x="659" y="311" width="5" height="1"/>
<rect x="668" y="310" width="1" height="1"/>
<rect x="668" y="318" width="1" height="3"/>
<rect x="666" y="311" width="5" height="7"/>
<rect x="675" y="311" width="1" height="2"/>
<rect x="675" y="318" width="1" height="1"/>
<rect x="673.5" y="313.5" width="4" height="4" fill="none" stroke="#000" stroke-width="1"/>
<rect x="682" y="306" width="1" height="3"/>
<rect x="682" y="314" width="1" height="7"/>
<rect x="680.5" y="309.5" width="4" height="4" fill="none" stroke="#000" stroke-width="1"/>
<rect x="689" y="295" width="1" height="10"/>
<rect x="689" y="310" width="1" height="8"/>
<rect x="687.5" y="305.5" width="4" height="4" fill="none" stroke="#000" stroke-width="1"/>
<rect x="696" y="291" width="1" height="2"/>
<rect x="696" y="306" width="1" height="5"/>
<rect x="694.5" y="293.5" width="4" height="12" fill="none" stroke="#000" stroke-width="1"/>
<rect x="702" y="288" width="1" height="1"/>
<rect x="702" y="294" width="1" height="10"/>
<rect x="700.5" y="289.5" width="4" height="4" fill="none" stroke="#000" stroke-width="1"/>
<rect x="709" y="263" width="1" height="3"/>
<rect x="709" y="290" width="1" height="2"/>
<rect x="707.5" y="266.5" width="4" height="23" fill="none" stroke="#000" stroke-width="1"/>
<rect x="716" y="249" width="1" height="2"/>
<rect x="716" y="267" width="1" height="12"/>
<rect x="714.5" y="251.5" width="4" height="15" fill="none" stroke="#000" stroke-width="1"/>
<rect x="723" y="279" width="1" height="5"/>
<rect x="721" y="251" width="5" height="28"/>
<rect x="730" y="271" width="1" height="7"/>
<rect x="730" y="287" width="1" height="4"/>
<rect x="728" y="278" width="5" height="9"/>
<rect x="737" y="277" width="1" height="4"/>
<rect x="737" y="287" width="1" height="10"/>
<rect x="735.5" y="281.5" width="4" height="5" fill="none" stroke="#000" stroke-width="1"/>
<rect x="744" y="277" width="1" height="4"/>
<rect x="744" y="288" width="1" height="8"/>
<rect x="742" y="281" width="5" height="7"/>
<rect x="750" y="283" width="1" height="4"/>
<rect x="750" y="288" width="1" height="7"/>
<rect x="748" y="287" width="5" height="1"/>
<rect x="757" y="263" width="1" height="4"/>
<rect x="755.5" y="267.5" width="4" height="20" fill="none" stroke="#000" stroke-width="1"/>
<rect x="764" y="255" width="1" height="4"/>
<rect x="762.5" y="259.5" width="4" height="8" fill="none" stroke="#000" stroke-width="1"/>
<rect x="771" y="251" width="1" height="6"/>
<rect x="771" y="260" width="1" height="5"/>
<rect x="769.5" y="257.5" width="4" height="2" fill="none" stroke="#000" stroke-width="1"/>
<rect x="778" y="242" width="1" height="8"/>
<rect x="776.5" y="250.5" width="4" height="6" fill="none" stroke="#000" stroke-width="1"/>
<rect x="785" y="239" width="1" height="5"/>
<rect x="785" y="251" width="1" height="22"/>
<rect x="783.5" y="244.5" width="4" height="6" fill="none" stroke="#000" stroke-width="1"/>
<rect x="791" y="241" width="1" height="3"/>
<rect x="791" y="260" width="1" height="3"/>
<rect x="789" y="244" width="5" height="16"/>
<rect x="798" y="251" width="1" height="8"/>
<rect x="798" y="281" width="1" height="18"/>
<rect x="796" y="259" width="5" height="22"/>
<rect x="805" y="271" width="1" height="7"/>
<rect x="805" y="281" width="1" height="14"/>
<rect x="803.5" y="278.5" width="4" height="2" fill="none" stroke="#000" stroke-width="1"/>
<rect x="812" y="275" width="1" height="3"/>
<rect x="812" y="283" width="1" height="14"/>
<rect x="810" y="278" width="5" height="5"/>
<rect x="819" y="280" width="1" height="2"/>
<rect x="819" y="305" width="1" height="10"/>
<rect x="817" y="282" width="5" height="23"/>
<rect x="826" y="287" width="1" height="17"/>
<rect x="824" y="304" width="5" height="1"/>
<rect x="833" y="290" width="1" height="5"/>
<rect x="833" y="305" width="1" height="4"/>
<rect x="831.5" y="295.5" width="4" height="9" fill="none" stroke="#000" stroke-width="1"/>
<rect x="837" y="295" width="5" height="1"/>
<rect x="846" y="278" width="1" height="8"/>
<rect x="844.5" y="286.5" width="4" height="9" fill="none" stroke="#000" stroke-width="1"/>
<rect x="853" y="285" width="1" height="1"/>
<rect x="853" y="289" width="1" height="4"/>
<rect x="851" y="286" width="5" height="3"/>
<rect x="860" y="290" width="1" height="6"/>
<rect x="858.5" y="286.5" width="4" height="3" fill="none" stroke="#000" stroke-width="1"/>
<rect x="867" y="285" width="1" height="1"/>
<rect x="867" y="290" width="1" height="5"/>
<rect x="865" y="286" width="5" height="4"/>
<rect x="874" y="291" width="1" height="8"/>
<rect x="872.5" y="270.5" width="4" height="20" fill="none" stroke="#000" stroke-width="1"/>
<rect x="881" y="252" width="1" height="3"/>
<rect x="879.5" y="255.5" width="4" height="15" fill="none" stroke="#000" stroke-width="1"/>
<rect x="887" y="235" width="1" height="6"/>
<rect x="887" y="256" width="1" height="4"/>
<rect x="885.5" y="241.5" width="4" height="14" fill="none" stroke="#000" stroke-width="1"/>
<rect x="894" y="212" width="1" height="13"/>
<rect x="894" y="242" width="1" height="6"/>
<rect x="892.5" y="225.5" width="4" height="16" fill="none" stroke="#000" stroke-width="1"/>
<rect x="901" y="207" width="1" height="12"/>
<rect x="899.5" y="219.5" width="4" height="6" fill="none" stroke="#000" stroke-width="1"/>
<rect x="908" y="205" width="1" height="9"/>
<rect x="908" y="219" width="1" height="6"/>
<rect x="906.5" y="214.5" width="4" height="4" fill="none" stroke="#000" stroke-width="1"/>
<rect x="915" y="205" width="1" height="7"/>
<rect x="915" y="215" width="1" height="2"/>
<rect x="913.5" y="212.5" width="4" height="2" fill="none" stroke="#000" stroke-width="1"/>
<rect x="922" y="219" width="1" height="1"/>
<rect x="920" y="212" width="5" height="7"/>
<rect x="928" y="215" width="1" height="2"/>
<rect x="928" y="218" width="1" height="3"/>
<rect x="926" y="217" width="5" height="1"/>
<rect x="935" y="209" width="1" height="7"/>
<rect x="935" y="219" width="1" height="2"/>
<rect x="933.5" y="216.5" width="4" height="2" fill="none" stroke="#000" stroke-width="1"/>
<rect x="942" y="212" width="1" height="4"/>
<rect x="942" y="223" width="1" height="5"/>
<rect x="940" y="216" width="5" height="7"/>
<rect x="949" y="205" width="1" height="2"/>
<rect x="947.5" y="207.5" width="4" height="16" fill="none" stroke="#000" stroke-width="1"/>
<rect x="956" y="197" width="1" height="6"/>
<rect x="956" y="208" width="1" height="8"/>
<rect x="954.5" y="203.5" width="4" height="4" fill="none" stroke="#000" stroke-width="1"/>
<rect x="963" y="197" width="1" height="6"/>
<rect x="963" y="207" width="1" height="3"/>
<rect x="961" y="203" width="5" height="4"/>
<rect x="970" y="185" width="1" height="5"/>
<rect x="970" y="209" width="1" height="4"/>
<rect x="968.5" y="190.5" width="4" height="18" fill="none" stroke="#000" stroke-width="1"/>
<rect x="976" y="158" width="1" height="2"/>
<rect x="976" y="191" width="1" height="1"/>
<rect x="974.5" y="160.5" width="4" height="30" fill="none" stroke="#000" stroke-width="1"/>
<rect x="983" y="135" width="1" height="22"/>
<rect x="983" y="161" width="1" height="1"/>
<rect x="981.5" y="157.5" width="4" height="3" fill="none" stroke="#000" stroke-width="1"/>
<rect x="990" y="123" width="1" height="2"/>
<rect x="990" y="159" width="1" height="3"/>
<rect x="988.5" y="125.5" width="4" height="33" fill="none" stroke="#000" stroke-width="1"/>
<rect x="997" y="124" width="1" height="1"/>
<rect x="997" y="155" width="1" height="7"/>
<rect x="995" y="125" width="5" height="30"/>
<rect x="1004" y="143" width="1" height="9"/>
<rect x="1004" y="156" width="1" height="9"/>
<rect x="1002.5" y="152.5" width="4" height="3" fill="none" stroke="#000" stroke-width="1"/>
<rect x="1011" y="141" width="1" height="10"/>
<rect x="1011" y="159" width="1" height="7"/>
<rect x="1009" y="151" width="5" height="8"/>
<rect x="1018" y="146" width="1" height="5"/>
<rect x="1018" y="159" width="1" height="16"/>
<rect x="1016.5" y="151.5" width="4" height="7" fill="none" stroke="#000" stroke-width="1"/>
<rect x="1024" y="144" width="1" height="7"/>
<rect x="1024" y="155" width="1" height="7"/>
<rect x="1022" y="151" width="5" height="4"/>
<rect x="1031" y="133" width="1" height="5"/>
<rect x="1029.5" y="138.5" width="4" height="16" fill="none" stroke="#000" stroke-width="1"/>
<rect x="1038" y="91" width="1" height="16"/>
<rect x="1036.5" y="107.5" width="4" height="31" fill="none" stroke="#000" stroke-width="1"/>
<rect x="1045" y="95" width="1" height="8"/>
<rect x="1045" y="108" width="1" height="19"/>
<rect x="1043.5" y="103.5" width="4" height="4" fill="none" stroke="#000" stroke-width="1"/>
<rect x="1052" y="76" width="1" height="27"/>
<rect x="1052" y="138" width="1" height="12"/>
<rect x="1050" y="103" width="5" height="35"/>
<rect x="1059" y="86" width="1" height="2"/>
<rect x="1057.5" y="88.5" width="4" height="49" fill="none" stroke="#000" stroke-width="1"/>
<rect x="1065" y="70" width="1" height="18"/>
<rect x="1065" y="92" width="1" height="33"/>
<rect x="1063" y="88" width="5" height="4"/>
<rect x="1072" y="78" width="1" height="10"/>
<rect x="1072" y="92" width="1" height="28"/>
<rect x="1070.5" y="88.5" width="4" height="3" fill="none" stroke="#000" stroke-width="1"/>
<rect x="1079" y="178" width="1" height="10"/>
<rect x="1077" y="88" width="5" height="90"/>
<rect x="1086" y="171" width="1" height="6"/>
<rect x="1086" y="193" width="1" height="45"/>
<rect x="1084" y="177" width="5" height="16"/>
<rect x="1093" y="182" width="1" height="10"/>
<rect x="1093" y="208" width="1" height="4"/>
<rect x="1091" y="192" width="5" height="16"/>
<rect x="1100" y="178" width="1" height="4"/>
<rect x="1100" y="208" width="1" height="2"/>
<rect x="1098.5" y="182.5" width="4" height="25" fill="none" stroke="#000" stroke-width="1"/>
<rect x="1107" y="180" width="1" height="2"/>
<rect x="1107" y="203" width="1" height="15"/>
<rect x="1105" y="182" width="5" height="21"/>
<rect x="1113" y="188" width="1" height="14"/>
<rect x="1111" y="202" width="5" height="7"/>
<rect x="1120" y="209" width="1" height="8"/>
<rect x="1118.5" y="193.5" width="4" height="15" fill="none" stroke="#000" stroke-width="1"/>
<rect x="1127" y="169" width="1" height="2"/>
<rect x="1127" y="195" width="1" height="2"/>
<rect x="1125.5" y="171.5" width="4" height="23" fill="none" stroke="#000" stroke-width="1"/>
<rect x="1134" y="171" width="1" height="8"/>
<rect x="1132" y="170" width="5" height="1"/>
<rect x="1141" y="168" width="1" height="2"/>
<rect x="1139" y="170" width="5" height="12"/>
<rect x="1148" y="173" width="1" height="8"/>
<rect x="1146" y="181" width="5" height="1"/>
<rect x="1153.5" y="170.5" width="4" height="10" fill="none" stroke="#000" stroke-width="1"/>
<rect x="1161" y="168" width="1" height="2"/>
<rect x="1159" y="170" width="5" height="14"/>
<rect x="1166" y="183" width="5" height="10"/>
<rect x="1175" y="193" width="1" height="3"/>
<rect x="1173.5" y="188.5" width="4" height="4" fill="none" stroke="#000" stroke-width="1"/>
<rect x="1182" y="179" width="1" height="1"/>
<rect x="1180.5" y="180.5" width="4" height="9" fill="none" stroke="#000" stroke-width="1"/>
<rect x="1189" y="136" width="1" height="5"/>
<rect x="1189" y="181" width="1" height="3"/>
<rect x="1187.5" y="141.5" width="4" height="39" fill="none" stroke="#000" stroke-width="1"/>
<rect x="1196" y="139" width="1" height="2"/>
<rect x="1196" y="146" width="1" height="12"/>
<rect x="1194" y="141" width="5" height="5"/>
<rect x="1202" y="140" width="1" height="5"/>
<rect x="1202" y="160" width="1" height="5"/>
<rect x="1200" y="145" width="5" height="15"/>
<rect x="1209" y="145" width="1" height="14"/>
<rect x="1207" y="159" width="5" height="14"/>
<rect x="1216" y="159" width="1" height="6"/>
<rect x="1216" y="173" width="1" height="2"/>
<rect x="1214.5" y="165.5" width="4" height="7" fill="none" stroke="#000" stroke-width="1"/>
<rect x="1223" y="159" width="1" height="6"/>
<rect x="1221" y="165" width="5" height="14"/>
<rect x="1230" y="174" width="1" height="4"/>
<rect x="1230" y="184" width="1" height="5"/>
<rect x="1228" y="178" width="5" height="6"/>
<rect x="1237" y="188" width="1" height="2"/>
<rect x="1235" y="184" width="5" height="4"/>
<rect x="1244" y="186" width="1" height="2"/>
<rect x="1244" y="189" width="1" height="1"/>
<rect x="1242" y="188" width="5" height="1"/>
<rect x="1250" y="184" width="1" height="4"/>
<rect x="1248" y="188" width="5" height="9"/>
<rect x="1257" y="175" width="1" height="5"/>
<rect x="1255.5" y="180.5" width="4" height="16" fill="none" stroke="#000" stroke-width="1"/>
<rect x="1264" y="157" width="1" height="15"/>
<rect x="1264" y="181" width="1" height="1"/>
<rect x="1262.5" y="172.5" width="4" height="8" fill="none" stroke="#000" stroke-width="1"/>
<rect x="1271" y="167" width="1" height="5"/>
<rect x="1271" y="182" width="1" height="5"/>
<rect x="1269" y="172" width="5" height="10"/>
<rect x="1278" y="178" width="1" height="3"/>
<rect x="1278" y="182" width="1" height="9"/>
<rect x="1276" y="181" width="5" height="1"/>
<rect x="1285" y="151" width="1" height="31"/>
<rect x="1285" y="184" width="1" height="5"/>
<rect x="1283" y="182" width="5" height="2"/>
<rect x="1292" y="171" width="1" height="2"/>
<rect x="1292" y="185" width="1" height="7"/>
<rect x="1290.5" y="173.5" width="4" height="11" fill="none" stroke="#000" stroke-width="1"/>
</g>
<line x1="127" y1="460.4" x2="1312.2" y2="211.8" stroke="#03b9d4" stroke-width="3.7"/>
<polyline points="1312.2,169.8 1373.1,37.4" fill="none" stroke="#f23a2e" stroke-width="4"/>
<polyline points="1347.8,46.3 1373.1,37.4 1383.4,62.5" fill="none" stroke="#f23a2e" stroke-width="4" stroke-linejoin="round"/>
</g>
<!-- FOREX.com logo -->
<g id="logo">
<rect x="1028" y="459.5" width="400" height="61" fill="#fff"/>
<path fill="#073a4f" d="M1029.5,461 H1076 V476 H1045.5 V484.5 H1072.6 V498.4 H1045.5 V518.7 H1029.5 Z"/>
<path fill="#0cb14c" fill-rule="evenodd" d="M1109.1,460 C1127,460 1138.3,473 1138.3,490 C1138.3,507 1127,520 1109.1,520 C1091.2,520 1079.9,507 1079.9,490 C1079.9,473 1091.2,460 1109.1,460 Z M1109.4,467.8 C1101.5,467.8 1096.7,476.5 1096.7,490 C1096.7,503.5 1101.5,511.9 1109.4,511.9 C1117.2,511.9 1122,503.5 1122,490 C1122,476.5 1117.2,467.8 1109.4,467.8 Z"/>
<path fill="#0cb14c" d="M1113.4,482.7 H1146.7 L1144.8,488.1 H1111.9 Z M1111.5,493 H1145 L1143.2,498.5 H1110 Z"/>
<path fill="#073a4f" fill-rule="evenodd" d="M1152,461 H1180 C1196,461 1204.2,469 1204.2,481 C1204.2,490 1199,496 1191.3,498.5 L1204.5,518.7 H1186.5 L1175,500.5 H1168 V518.7 H1152 Z M1168,474.5 V488.6 H1179.5 C1184.5,488.6 1187.8,486 1187.8,481.5 C1187.8,477 1184.5,474.5 1179.5,474.5 Z"/>
<path fill="#073a4f" d="M1210.8,461 H1257 V475.5 H1226.5 V483.5 H1254.2 V496.5 H1226.5 V504.6 H1257.6 V518.7 H1210.8 Z"/>
<path fill="#073a4f" d="M1263.5,461 H1281.4 L1291.4,476.5 L1301.4,461 H1319.4 L1301.1,489.5 L1320.2,518.7 H1302 L1291.4,502.5 L1280.8,518.7 H1262.6 L1281.6,489.5 Z"/>
<circle cx="1329.3" cy="498.2" r="4.45" fill="#073a4f"/>
<circle cx="1347.8" cy="491.1" r="11.8" fill="#073a4f"/><ellipse cx="1348.2" cy="491.2" rx="4.4" ry="5.7" fill="#fff"/><polygon points="1348.5,491.1 1362,480.8 1362,501.4" fill="#fff"/>
<path fill="#073a4f" fill-rule="evenodd" d="M1372.8,479.3 A12.5,11.9 0 1 1 1372.8,503.1 A12.5,11.9 0 1 1 1372.8,479.3 Z M1372.9,485.8 A5.1,5.55 0 1 0 1372.9,496.9 A5.1,5.55 0 1 0 1372.9,485.8 Z"/>
<path fill="#073a4f" d="M1389.4,502.7 V480 H1397.2 V482.3 C1398.8,480.3 1401.3,479.3 1404,479.3 C1407.2,479.3 1409.6,480.6 1411,482.8 C1412.8,480.5 1415.5,479.3 1418.7,479.3 C1423.3,479.3 1426,482.5 1426,487.5 V502.7 H1418.2 V489.5 C1418.2,487.1 1417.2,485.8 1415,485.8 C1412.8,485.8 1411.5,487.3 1411.5,489.8 V502.7 H1404 V489.5 C1404,487.1 1403,485.8 1400.8,485.8 C1398.6,485.8 1397.2,487.3 1397.2,489.8 V502.7 Z"/>
</g>
<!-- event icon -->
<g>
<clipPath id="flagc"><circle cx="1469.9" cy="533.8" r="8.3"/></clipPath>
<g clip-path="url(#flagc)">
<rect x="1460" y="525" width="20" height="20" fill="#fff"/>
<rect x="1461" y="526" width="10.5" height="10" fill="#4a86d8"/><rect x="1463.0" y="527.5" width="1" height="1" fill="#cfe0f7"/><rect x="1463.0" y="530.5" width="1" height="1" fill="#cfe0f7"/><rect x="1463.0" y="533.5" width="1" height="1" fill="#cfe0f7"/><rect x="1466.0" y="527.5" width="1" height="1" fill="#cfe0f7"/><rect x="1466.0" y="530.5" width="1" height="1" fill="#cfe0f7"/><rect x="1466.0" y="533.5" width="1" height="1" fill="#cfe0f7"/><rect x="1469.0" y="527.5" width="1" height="1" fill="#cfe0f7"/><rect x="1469.0" y="530.5" width="1" height="1" fill="#cfe0f7"/><rect x="1469.0" y="533.5" width="1" height="1" fill="#cfe0f7"/>
<polygon points="1471.5,531.5 1478,534 1478,536 1471.5,536" fill="#e84a5f"/>
<rect x="1461" y="538" width="20" height="5" fill="#e84a5f"/>
</g>
<path d="M1473.5,522.2 A11.3,11.3 0 1 0 1481,532" fill="none" stroke="#fbc02d" stroke-width="1.6"/>
<text x="1475.6" y="530.6" font-size="10.5" fill="#222">8</text>
</g>
<!-- RSI -->
<g clip-path="url(#cr)">
<polyline points="4.5,706.1 11.5,735.3 17.5,718.0 24.5,722.9 31.5,707.6 38.5,707.6 45.5,699.4 52.5,699.4 59.5,678.1 65.5,701.1 72.5,710.5 79.5,686.3 86.5,714.0 93.5,718.5 100.5,728.4 107.5,723.4 113.5,717.2 120.5,709.3 127.5,714.3 134.5,741.5 141.5,723.9 148.5,696.7 154.5,696.7 161.5,633.6 168.5,652.1 175.5,638.0 182.5,632.3 189.5,610.8 196.5,608.3 202.5,615.2 209.5,620.7 216.5,614.0 223.5,630.6 230.5,603.4 237.5,606.3 244.5,610.3 250.5,621.2 257.5,617.7 264.5,612.8 271.5,589.8 278.5,589.8 285.5,583.6 291.5,581.8 298.5,626.0 305.5,625.6 312.5,617.0 319.5,616.2 326.5,636.3 333.5,630.6 339.5,625.9 346.5,628.1 353.5,632.3 360.5,631.3 367.5,643.7 374.5,671.4 381.5,691.7 387.5,701.9 394.5,685.0 401.5,698.2 408.5,675.9 415.5,668.5 422.5,656.6 428.5,656.6 435.5,644.2 442.5,641.7 449.5,659.1 456.5,637.5 463.5,616.2 470.5,655.3 476.5,661.0 483.5,693.7 490.5,720.4 497.5,698.2 504.5,693.2 511.5,704.4 518.5,700.4 524.5,701.6 531.5,688.3 538.5,708.6 545.5,754.4 552.5,740.2 559.5,735.8 565.5,715.5 572.5,711.5 579.5,711.0 586.5,718.5 593.5,718.5 600.5,717.2 607.5,735.8 613.5,722.2 620.5,699.9 627.5,703.6 634.5,712.3 641.5,686.3 648.5,685.0 654.5,676.4 661.5,676.4 668.5,684.6 675.5,679.4 682.5,672.7 689.5,667.0 696.5,650.9 702.5,645.4 709.5,620.0 716.5,607.1 723.5,652.9 730.5,664.0 737.5,659.1 744.5,667.7 750.5,666.0 757.5,644.2 764.5,636.8 771.5,632.3 778.5,626.9 785.5,621.4 791.5,651.6 798.5,681.8 805.5,679.4 812.5,685.8 819.5,714.8 826.5,714.8 833.5,699.9 839.5,698.7 846.5,685.5 853.5,689.5 860.5,684.3 867.5,691.2 874.5,659.0 881.5,640.4 887.5,625.5 894.5,611.4 901.5,605.7 908.5,602.5 915.5,601.3 922.5,613.9 928.5,614.4 935.5,612.4 942.5,628.5 949.5,610.7 956.5,607.5 963.5,615.9 970.5,600.3 976.5,577.8 983.5,576.0 990.5,560.4 997.5,614.4 1004.5,612.4 1011.5,623.6 1018.5,618.1 1024.5,621.8 1031.5,609.0 1038.5,589.7 1045.5,587.7 1052.5,638.7 1059.5,608.2 1065.5,611.9 1072.5,610.9 1079.5,696.1 1086.5,705.2 1093.5,713.4 1100.5,696.6 1107.5,708.5 1113.5,712.2 1120.5,701.0 1127.5,682.5 1134.5,681.7 1141.5,691.1 1148.5,689.9 1155.5,681.2 1161.5,693.6 1168.5,700.8 1175.5,696.2 1182.5,687.9 1189.5,654.5 1196.5,658.7 1202.5,673.9 1209.5,685.4 1216.5,679.8 1223.5,691.3 1230.5,697.8 1237.5,701.5 1244.5,701.5 1250.5,710.2 1257.5,689.4 1264.5,680.1 1271.5,690.9 1278.5,691.5 1285.5,695.3 1292.5,680.1" fill="none" stroke="#2f7fd6" stroke-width="1.1" stroke-linejoin="round"/>
<rect x="819.5" y="714" width="666" height="2" fill="#2a6fd9"/>
<line x1="990.8" y1="560.4" x2="1283.8" y2="700.5" stroke="#03b9d4" stroke-width="4"/>
</g>
<!-- frame -->
<g stroke="#4f4f4f" stroke-width="1" shape-rendering="crispEdges" fill="none">
<rect x="5.5" y="7.5" width="1534" height="792"/>
<line x1="1485.5" y1="7.5" x2="1485.5" y2="799.5"/>
<line x1="5.5" y1="548.5" x2="1539.5" y2="548.5"/>
<line x1="5.5" y1="771.5" x2="1539.5" y2="771.5"/>
</g>
<!-- legend -->
<g font-size="12" fill="#505050">
<text x="14.6" y="28.6" fill="#484848" stroke="#484848" stroke-width="0.45" textLength="189.5" lengthAdjust="spacingAndGlyphs">Us Crude Oil CFD, 30, FOREX.com</text>
<text x="14.6" y="45.7" textLength="103" lengthAdjust="spacingAndGlyphs">BB (20, close, 2, 0)</text>
<text x="14.6" y="62.7" textLength="92.8" lengthAdjust="spacingAndGlyphs">MA (50, close, 0)</text>
<text x="14.6" y="569.9" textLength="76.9" lengthAdjust="spacingAndGlyphs">RSI (14, close)</text>
</g>
<!-- axis labels -->
<g font-size="11" fill="#4e4e4e">
<g stroke="#4f4f4f" stroke-width="1" shape-rendering="crispEdges">
</g>
<line x1="1486" y1="20.5" x2="1490" y2="20.5" stroke="#4f4f4f" shape-rendering="crispEdges"/>
<text x="1495" y="23.8">6925.0</text>
<line x1="1486" y1="49.5" x2="1490" y2="49.5" stroke="#4f4f4f" shape-rendering="crispEdges"/>
<text x="1495" y="52.8">6900.0</text>
<line x1="1486" y1="78.5" x2="1490" y2="78.5" stroke="#4f4f4f" shape-rendering="crispEdges"/>
<text x="1495" y="81.8">6875.0</text>
<line x1="1486" y1="106.5" x2="1490" y2="106.5" stroke="#4f4f4f" shape-rendering="crispEdges"/>
<text x="1495" y="109.8">6850.0</text>
<line x1="1486" y1="135.5" x2="1490" y2="135.5" stroke="#4f4f4f" shape-rendering="crispEdges"/>
<text x="1495" y="138.8">6825.0</text>
<line x1="1486" y1="164.5" x2="1490" y2="164.5" stroke="#4f4f4f" shape-rendering="crispEdges"/>
<text x="1495" y="167.8">6800.0</text>
<line x1="1486" y1="192.5" x2="1490" y2="192.5" stroke="#4f4f4f" shape-rendering="crispEdges"/>
<text x="1495" y="195.8">6775.0</text>
<line x1="1486" y1="221.5" x2="1490" y2="221.5" stroke="#4f4f4f" shape-rendering="crispEdges"/>
<text x="1495" y="224.8">6750.0</text>
<line x1="1486" y1="250.5" x2="1490" y2="250.5" stroke="#4f4f4f" shape-rendering="crispEdges"/>
<text x="1495" y="253.8">6725.0</text>
<line x1="1486" y1="278.5" x2="1490" y2="278.5" stroke="#4f4f4f" shape-rendering="crispEdges"/>
<text x="1495" y="281.8">6700.0</text>
<line x1="1486" y1="307.5" x2="1490" y2="307.5" stroke="#4f4f4f" shape-rendering="crispEdges"/>
<text x="1495" y="310.8">6675.0</text>
<line x1="1486" y1="336.5" x2="1490" y2="336.5" stroke="#4f4f4f" shape-rendering="crispEdges"/>
<text x="1495" y="339.8">6650.0</text>
<line x1="1486" y1="364.5" x2="1490" y2="364.5" stroke="#4f4f4f" shape-rendering="crispEdges"/>
<text x="1495" y="367.8">6625.0</text>
<line x1="1486" y1="393.5" x2="1490" y2="393.5" stroke="#4f4f4f" shape-rendering="crispEdges"/>
<text x="1495" y="396.8">6600.0</text>
<line x1="1486" y1="422.5" x2="1490" y2="422.5" stroke="#4f4f4f" shape-rendering="crispEdges"/>
<text x="1495" y="425.8">6575.0</text>
<line x1="1486" y1="450.5" x2="1490" y2="450.5" stroke="#4f4f4f" shape-rendering="crispEdges"/>
<text x="1495" y="453.8">6550.0</text>
<line x1="1486" y1="479.5" x2="1490" y2="479.5" stroke="#4f4f4f" shape-rendering="crispEdges"/>
<text x="1495" y="482.8">6525.0</text>
<line x1="1486" y1="508.5" x2="1490" y2="508.5" stroke="#4f4f4f" shape-rendering="crispEdges"/>
<text x="1495" y="511.8">6500.0</text>
<line x1="1486" y1="537.5" x2="1490" y2="537.5" stroke="#4f4f4f" shape-rendering="crispEdges"/>
<text x="1495" y="540.8">6475.0</text>
<line x1="1486" y1="575.5" x2="1490" y2="575.5" stroke="#4f4f4f" shape-rendering="crispEdges"/>
<text x="1495" y="578.8">80.00</text>
<line x1="1486" y1="612.5" x2="1490" y2="612.5" stroke="#4f4f4f" shape-rendering="crispEdges"/>
<text x="1495" y="615.8">70.00</text>
<line x1="1486" y1="649.5" x2="1490" y2="649.5" stroke="#4f4f4f" shape-rendering="crispEdges"/>
<text x="1495" y="652.8">60.00</text>
<line x1="1486" y1="685.5" x2="1490" y2="685.5" stroke="#4f4f4f" shape-rendering="crispEdges"/>
<text x="1495" y="688.8">50.00</text>
<line x1="1486" y1="722.5" x2="1490" y2="722.5" stroke="#4f4f4f" shape-rendering="crispEdges"/>
<text x="1495" y="725.8">40.00</text>
<line x1="1486" y1="759.5" x2="1490" y2="759.5" stroke="#4f4f4f" shape-rendering="crispEdges"/>
<text x="1495" y="762.8">30.00</text>
<line x1="38.5" y1="772" x2="38.5" y2="776" stroke="#4f4f4f" shape-rendering="crispEdges"/>
<text x="38.3" y="788" text-anchor="middle">12:00</text>
<line x1="120.5" y1="772" x2="120.5" y2="776" stroke="#4f4f4f" shape-rendering="crispEdges"/>
<text x="120.3" y="788" text-anchor="middle">18:00</text>
<line x1="202.5" y1="772" x2="202.5" y2="776" stroke="#4f4f4f" shape-rendering="crispEdges"/>
<text x="202.3" y="788" text-anchor="middle">28</text>
<line x1="278.5" y1="772" x2="278.5" y2="776" stroke="#4f4f4f" shape-rendering="crispEdges"/>
<text x="278.4" y="788" text-anchor="middle">06:30</text>
<line x1="353.5" y1="772" x2="353.5" y2="776" stroke="#4f4f4f" shape-rendering="crispEdges"/>
<text x="353.4" y="788" text-anchor="middle">12:00</text>
<line x1="435.5" y1="772" x2="435.5" y2="776" stroke="#4f4f4f" shape-rendering="crispEdges"/>
<text x="435.5" y="788" text-anchor="middle">18:00</text>
<line x1="579.5" y1="772" x2="579.5" y2="776" stroke="#4f4f4f" shape-rendering="crispEdges"/>
<text x="579.5" y="788" text-anchor="middle">31</text>
<line x1="661.5" y1="772" x2="661.5" y2="776" stroke="#4f4f4f" shape-rendering="crispEdges"/>
<text x="661.6" y="788" text-anchor="middle">12:00</text>
<line x1="744.5" y1="772" x2="744.5" y2="776" stroke="#4f4f4f" shape-rendering="crispEdges"/>
<text x="744.5" y="788" text-anchor="middle">18:00</text>
<line x1="826.5" y1="772" x2="826.5" y2="776" stroke="#4f4f4f" shape-rendering="crispEdges"/>
<text x="826.4" y="788" text-anchor="middle" stroke="#4e4e4e" stroke-width="0.4">Jun</text>
<line x1="928.5" y1="772" x2="928.5" y2="776" stroke="#4f4f4f" shape-rendering="crispEdges"/>
<text x="928.6" y="788" text-anchor="middle">12:00</text>
<line x1="1011.5" y1="772" x2="1011.5" y2="776" stroke="#4f4f4f" shape-rendering="crispEdges"/>
<text x="1011.6" y="788" text-anchor="middle">18:00</text>
<line x1="1093.5" y1="772" x2="1093.5" y2="776" stroke="#4f4f4f" shape-rendering="crispEdges"/>
<text x="1093.1" y="788" text-anchor="middle">2</text>
<line x1="1168.5" y1="772" x2="1168.5" y2="776" stroke="#4f4f4f" shape-rendering="crispEdges"/>
<text x="1168.4" y="788" text-anchor="middle">06:30</text>
<line x1="1244.5" y1="772" x2="1244.5" y2="776" stroke="#4f4f4f" shape-rendering="crispEdges"/>
<text x="1244.3" y="788" text-anchor="middle">12:00</text>
<line x1="1326.5" y1="772" x2="1326.5" y2="776" stroke="#4f4f4f" shape-rendering="crispEdges"/>
<text x="1326.3" y="788" text-anchor="middle">18:00</text>
<line x1="1408.5" y1="772" x2="1408.5" y2="776" stroke="#4f4f4f" shape-rendering="crispEdges"/>
<text x="1408.1" y="788" text-anchor="middle">3</text>
</g>
<!-- badges -->
<g font-size="11" font-weight="bold" fill="#fff">
<rect x="1485" y="18" width="48" height="16.6" rx="2" fill="#f23a2e"/>
<text x="1495" y="30.5">6920.0</text>
<rect x="1485" y="64" width="48" height="16.6" rx="2" fill="#f23a2e"/>
<text x="1495" y="76.5">6880.0</text>
<rect x="1485" y="165" width="48" height="30" rx="2" fill="#000"/>
<text x="1495" y="177.5">6791.9</text>
<text x="1495" y="191" fill="#b8b8b8">00:03</text>
<rect x="1485" y="230" width="48" height="17" rx="2" fill="#1e6fd9"/>
<text x="1495" y="242.7">6735.0</text>
<rect x="1485" y="305.3" width="48" height="16.5" rx="2" fill="#4caf50"/>
<text x="1495" y="317.8">6670.0</text>
<rect x="1485" y="707.2" width="43" height="16.5" rx="2" fill="#3b7ddb"/>
<text x="1495" y="719.7">42.00</text>
<g fill="#fff" opacity="0.85">
<rect x="1486" y="26" width="4" height="1"/>
<rect x="1486" y="72" width="4" height="1"/>
<rect x="1486" y="173" width="4" height="1"/>
<rect x="1486" y="238" width="4" height="1"/>
<rect x="1486" y="313" width="4" height="1"/>
<rect x="1486" y="715" width="4" height="1"/>
</g>
</g>
</svg>
</body></html>
